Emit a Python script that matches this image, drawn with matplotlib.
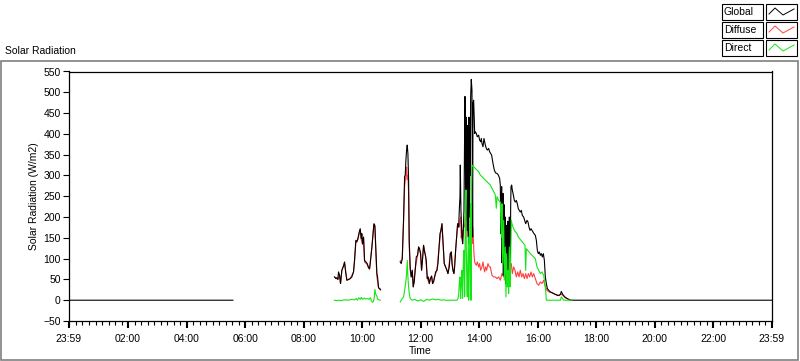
import numpy as np
import matplotlib
matplotlib.use("Agg")
import matplotlib.pyplot as plt
from matplotlib.patches import Rectangle
from matplotlib.lines import Line2D

plt.rcParams['font.family'] = ['Liberation Sans', 'DejaVu Sans']

# minutes since midnight (NaN splits gaps), values in W/m2
global_min = [-1, 335, np.nan,
              543.3, 546.0, 548.1, 550.1, 551.5, 553.6, 555.6, 558.3, 561.7, 563.8, 566.5, 568.6,
              572.0, 575.4, 578.8, 582.2, 584.3, 587.0, 589.1, 591.1, 593.9, 595.9, 598.0, 599.3,
              600.7, 602.8, 604.8, 607.6, 610.3, 613.0, 615.1, 617.1, 619.9, 621.9, 624.0, 626.0,
              628.1, 630.1, 631.5, 633.5, 635.6, 637.6, np.nan,
              678.0, 680.0, 682.1, 683.4, 684.8, 686.9, 688.2, 689.6, 691.0, 692.3, 693.7, 695.1,
              696.4, 698.5, 700.5, 702.6, 704.6, 706.7, 708.8, 710.8, 713.5, 715.6, 717.6, 719.7,
              721.7, 723.8, 725.8, 727.9, 729.9, 731.3, 733.4, 735.4, 737.5, 739.5, 742.3, 744.3,
              746.4, 748.4, 750.5, 753.2, 755.3, 757.3, 759.4, 761.4, 763.5, 764.8, 766.2, 768.2,
              773.7, 775.8, 778.5, 780.6, 782.6, 784.0, 786.0, 788.1, 789.5, 791.5, 793.6, 795.6,
              797.7, 799.0, 800.4, 801.1, 802.4, 804.5, 805.9, 807.2, 808.6, 810.0, 810.6, 811.3,
              812.0, 812.7, 813.4, 814.1, 814.7, 815.4, 816.1, 816.8, 817.5, 818.2, 818.9, 819.5,
              820.2, 820.9, 821.6, 822.3, 823.6, 825.0, 825.7, 826.4,
              827.1, 828.4, 829.8, 830.5, 831.8, 833.9, 835.9, 838.7, 840.7, 842.8, 844.2, 845.5,
              847.6, 849.6, 851.0, 852.4, 854.4, 856.5, 859.2, 861.2,
              865.3, 868.1, 870.8, 873.5, 876.3, 879.0, 881.7, 883.1, 883.8, 884.5, 885.2, 885.9,
              886.5, 887.2, 887.9, 888.6, 889.3, 890.0, 890.6, 891.3, 892.0, 892.7, 893.4, 894.1,
              894.7, 895.4, 896.1, 896.8, 897.5, 898.2, 898.8, 899.5, 900.2, 900.9, 901.6, 902.3,
              902.9, 903.6, 904.3, 905.0,
              906.4, 907.7, 909.1, 910.5, 911.8, 913.9, 915.9, 918.0, 920.0, 922.1, 924.1, 926.2,
              928.2, 931.0, 933.0, 935.1, 937.8, 939.9, 941.9, 944.0, 946.0, 948.1, 950.1, 952.2,
              954.9, 957.0, 959.0, 961.1, 963.1, 965.2, 967.2, 969.3, 971.3, 973.4, 975.4, 977.5,
              979.5, 982.3, 985.7, 989.1, 992.5, 995.9, 999.3, 1002.8, 1006.2, 1008.2, 1011.0, 1015.1,
              1019.9, 1023.3, 1026.7, 1439]
global_val = [0, 0, np.nan,
              56, 52, 54, 50, 68, 60, 40, 72, 82, 92, 64, 48,
              50, 52, 56, 68, 96, 144, 140, 148, 164, 172, 148, 160,
              136, 152, 96, 92, 88, 78, 76, 96, 128, 156, 184, 180,
              120, 64, 56, 30, 28, 26, np.nan,
              92, 88, 100, 144, 196, 297, 301, 337, 361, 373, 353, 289,
              144, 76, 56, 72, 32, 44, 76, 104, 108, 128, 124, 112,
              72, 100, 132, 116, 106, 96, 52, 56, 40, 52, 58, 40,
              44, 56, 68, 72, 88, 124, 160, 168, 184, 156, 128, 88,
              72, 64, 80, 112, 116, 88, 72, 64, 80, 120, 152, 184,
              176, 216, 249, 325, 216, 152, 136, 168, 216, 393, 490, 473,
              200, 313, 440, 192, 300, 168, 420, 232, 180, 136, 440, 249,
              200, 393, 300, 489, 531, 505, 313, 152,
              473, 481, 433, 401, 405, 401, 393, 397, 385, 381, 389, 377,
              369, 389, 381, 373, 365, 361, 365, 357,
              349, 329, 313, 306, 305, 301, 293, 277, 200, 160, 240, 273,
              90, 112, 200, 257, 60, 128, 230, 168, 90, 64, 200, 152,
              40, 48, 180, 128, 40, 56, 190, 144, 50, 80, 200, 168,
              40, 72, 220, 273,
              277, 265, 257, 249, 240, 236, 240, 232, 220, 216, 212, 216,
              204, 200, 192, 184, 192, 188, 176, 168, 172, 168, 164, 160,
              156, 144, 120, 112, 116, 108, 112, 104, 112, 96, 56, 40,
              28, 24, 20, 18, 16, 14, 12, 11, 14, 21, 14, 8,
              4, 2, 0, 0]

diffuse_min = [543.3, 550.1, 553.6, 555.6, 558.3, 563.8, 568.6, 575.4, 582.2, 584.3, 587.0, 591.1,
               595.9, 598.0, 600.7, 602.8, 604.8, 610.3, 615.1, 619.9, 624.0, 626.0, 628.1, 630.1,
               633.5, 637.6, np.nan,
               678.0, 682.1, 683.4, 684.8, 686.9, 689.6, 691.0, 692.3, 693.7, 695.1, 696.4, 698.5,
               700.5, 702.6, 704.6, 708.8, 713.5, 715.6, 719.7, 721.7, 725.8, 729.9, 733.4, 737.5,
               742.3, 744.3, 748.4, 753.2, 757.3, 761.4, 763.5, 766.2, 768.2, 773.7, 775.8, 780.6,
               782.6, 786.0, 788.1, 791.5, 795.6, 797.7,
               799.0, 800.4, 801.8, 803.1, 804.5, 805.9, 807.9, 810.0, 811.3, 813.4, 815.4, 818.2,
               821.6, 823.6, 825.0, 826.4, 827.7, 829.1, 830.5, 831.8, 833.9, 835.9, 838.7, 840.7,
               842.8, 845.5, 847.6, 849.6, 851.0, 853.0, 855.1, 857.8, 860.6,
               862.6, 866.0, 869.4, 872.9, 876.3, 879.7, 883.1, 886.5, 890.0, 893.4, 896.8, 900.2,
               903.6, 905.7, 907.7, 910.5, 913.2, 915.9, 918.7, 921.4, 924.1, 926.9, 929.6, 932.4,
               935.1, 937.8, 940.6, 943.3, 946.0, 948.8, 951.5,
               954.9, 958.3, 961.7, 965.2, 968.6, 972.0, 975.4, 978.8, 982.3, 989.1, 995.9, 1002.8,
               1008.2, 1011.0, 1016.5, 1023.3, 1026.7, 1030.1]
diffuse_val = [56, 50, 60, 40, 72, 90, 48, 52, 68, 94, 140, 146,
               170, 146, 134, 150, 92, 86, 74, 128, 182, 176, 108, 56,
               30, 24, np.nan,
               94, 98, 138, 188, 273, 300, 320, 290, 300, 257, 128, 72,
               56, 72, 32, 76, 108, 128, 112, 72, 132, 106, 52, 40,
               58, 40, 56, 72, 124, 168, 184, 128, 88, 72, 64, 112,
               116, 72, 64, 120, 184, 176,
               176, 192, 200, 150, 168, 136, 184, 176, 200, 208, 152, 208,
               216, 200, 136, 176, 152, 112, 92, 88, 84, 92, 80, 88,
               72, 80, 92, 76, 68, 80, 72, 88, 80,
               80, 60, 56, 56, 52, 56, 48, 64, 56, 80, 64, 56,
               80, 88, 64, 80, 72, 56, 68, 56, 72, 56, 64, 52,
               64, 52, 64, 56, 68, 56, 64,
               52, 40, 36, 44, 40, 48, 32, 24, 20, 18, 14, 12,
               14, 12, 6, 2, 0, 0]

direct_min = [543, 548, 552, 556, 560, 566, 572, 578, 584, 588, 590, 593,
              596, 598, 601, 604, 607, 611, 614, 617, 619, 621, 623, 625,
              626, 628, 630, 632, 637, np.nan,
              678.0, 682.1, 684.9, 686.9, 689.0, 691.0, 692.4, 693.7, 695.1, 696.5, 698.5, 702.0,
              708, 714, 720, 726, 732, 738, 744, 750, 756, 762, 768,
              770.3, 784.0, 794.2, 796.3, 797.7, 799.0, 800.4, 801.8, 803.1, 804.5, 805.9, 807.2,
              808.6, 810.0, 811.3, 812.7, 813.4, 814.7, 815.4, 816.8, 817.5, 818.2, 819.5, 820.9,
              822.3, 823.0, 823.6, 824.3, 825.0, 828.4, 831.8, 835.3, 838.7, 842.1, 845.5, 848.9,
              852.4, 855.8, 859.2,
              862.6, 866.0, 869.4, 872.9, 874.9, 876.3, 879.7, 883.1, 885.2, 886.5, 887.9, 890.0,
              891.3, 893.4, 894.7, 896.1, 897.5, 898.8, 900.2, 901.6, 902.9, 904.3, 905.7, 907.0,
              909.1, 911.8, 914.6, 917.3, 920.0, 922.8, 925.5, 928.2, 931.0, 933.7, 935.1, 936.5,
              939.2, 941.9, 944.7, 948.1, 951.5,
              954.9, 958.3, 961.7, 965.2, 968.6, 972.0, 975.4, 977.5, 989.1, 1006.2, 1008.2, 1009.6,
              1013.0, 1030.1]
direct_val = [0, -1, 0, -1, 0, 1, 0, 2, 1, 4, 0, 6,
              2, 7, 2, 5, 3, 4, 2, 6, -2, -5, -3, 8,
              26, 14, 10, 2, 0, np.nan,
              -4, 4, 8, 24, 40, 64, 96, 56, 32, 16, 4, 0,
              2, -2, 1, -3, 2, 0, 3, 1, 2, 0, 1,
              0, 0, 0, 4, 12, 40, 56, 4, 40, 72, 4, 88,
              120, 8, 192, 265, 120, 32, 8, 104, 152, 0, 72, 184,
              232, 0, 104, 272, 325, 321, 317, 313, 309, 301, 297, 293,
              289, 285, 281,
              277, 269, 261, 253, 221, 249, 240, 236, 152, 232, 88, 192,
              48, 128, 8, 112, 32, 72, 16, 128, 32, 96, 192, 184,
              176, 168, 164, 160, 152, 148, 144, 140, 136, 132, 72, 124,
              120, 116, 112, 108, 104,
              100, 80, 72, 64, 68, 60, 32, 0, 0, 0, 8, 6,
              0, 0]

tick_labels = ['23:59', '02:00', '04:00', '06:00', '08:00', '10:00', '12:00',
               '14:00', '16:00', '18:00', '20:00', '22:00', '23:59']

W, H = 800, 361
fig = plt.figure(figsize=(W / 100, H / 100), dpi=100)


def fx(x):
    return x / W


def fy(y):
    return 1 - y / H


# outer panel frame, kept behind the axes
frame = Rectangle((fx(1), fy(360)), fx(797), 299 / H, transform=fig.transFigure,
                  facecolor='white', edgecolor='#7f7f7f', lw=1.2, zorder=-5)
fig.add_artist(frame)
fig.text(fx(5), fy(51), 'Solar Radiation', fontsize=7.5, va='center', ha='left')

ax = fig.add_axes([fx(69), fy(321), (771.5 - 69) / W, 249.5 / H])
ax.set_zorder(2)

ax.plot(np.array(diffuse_min) / 60, diffuse_val, color='#ff4040', lw=0.8)
ax.plot(np.array(global_min) / 60, global_val, color='black', lw=0.8)
ax.plot(np.array(direct_min) / 60, direct_val, color='#14e614', lw=0.8)

ax.set_xlim(-1 / 60, 24 - 1 / 60)
ax.set_ylim(-50, 550)
ax.set_yticks(np.arange(-50, 551, 50))
ax.set_xticks([-1 / 60] + list(range(2, 23, 2)) + [24 - 1 / 60])
ax.set_xticklabels(tick_labels)
ax.set_xticks(np.arange(0, 24, 2 / 9), minor=True)
ax.tick_params(axis='both', labelsize=7.5, direction='out', length=4, width=0.8)
ax.tick_params(axis='x', which='major', length=5, width=1.5, pad=4)
ax.tick_params(axis='x', which='minor', length=3, width=0.8)
ax.tick_params(axis='y', which='both', pad=2)
for s in ax.spines.values():
    s.set_linewidth(0.9)
ax.set_xlabel('Time', fontsize=7.5, labelpad=2)
ax.set_ylabel('Solar Radiation (W/m2)', fontsize=7.5, labelpad=3)

# legend in the top right corner
legend_names = ['Global', 'Diffuse', 'Direct']
legend_colors = ['black', '#ff4040', '#14e614']
for i, (name, col) in enumerate(zip(legend_names, legend_colors)):
    top = 4 + 18 * i
    fig.add_artist(Rectangle((fx(722), fy(top + 16)), 41 / W, 16 / H, transform=fig.transFigure,
                             facecolor='white', edgecolor='black', lw=0.8))
    fig.text(fx(724), fy(top + 8), name, fontsize=7.5, va='center', ha='left')
    fig.add_artist(Rectangle((fx(766), fy(top + 16)), 31 / W, 16 / H, transform=fig.transFigure,
                             facecolor='white', edgecolor='black', lw=0.8))
    xs = [fx(769), fx(775), fx(783), fx(794)]
    ys = [fy(top + 10), fy(top + 4), fy(top + 11), fy(top + 5)]
    fig.add_artist(Line2D(xs, ys, transform=fig.transFigure, color=col, lw=0.7))

fig.savefig('out.png', dpi=100)
